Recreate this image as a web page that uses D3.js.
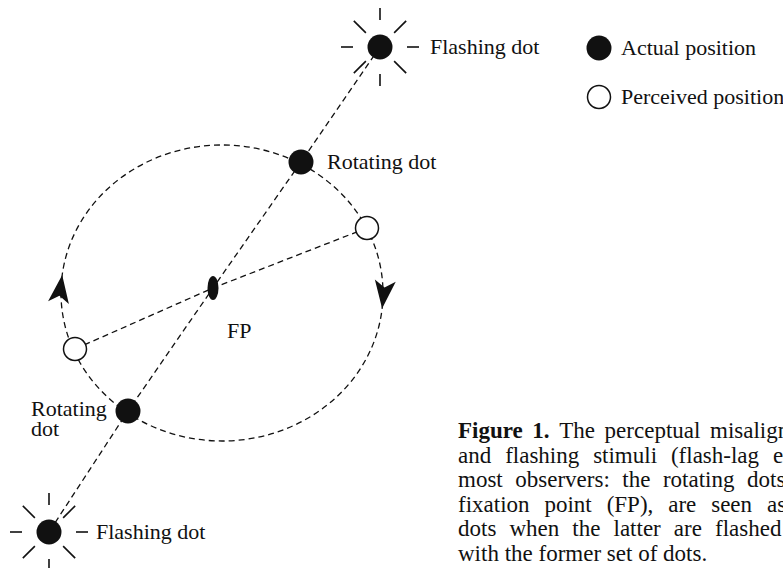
<!DOCTYPE html>
<html>
<head>
<meta charset="utf-8">
<script src="https://cdn.jsdelivr.net/npm/d3@7"></script>
<style>
  body { margin: 0; background: #fff; }
  svg { display: block; }
</style>
</head>
<body>
<svg id="fig" width="783" height="568"></svg>
<script>
// figure units are pixels, origin on the fixation point, y pointing up
var flashingDots = [[167, 241], [-164, -244]];
var rotatingDots = [[88, 126], [-85, -123]];
var perceivedDots = [[154, 60], [-138, -61]];
var orbitCentre = [9, -5];
var orbitRadii = [161, 148];
var arrowAngles = [173, -6];
var rayAngles = [0, 45, 90, 135, 180, 225, 270, 315];

var labelTexts = ['Flashing dot', 'Flashing dot', 'Rotating dot', 'Rotating', 'dot', 'FP'];
var labelSpots = [[217, 234], [-117, -251], [114, 119], [-182, -128], [-182, -148], [14, -50]];

var legendTexts = ['Actual position', 'Perceived position'];

var captionLines = [
  ['Figure', '1.', 'The', 'perceptual', 'misalignment'],
  ['and', 'flashing', 'stimuli', '(flash-lag', 'effect)'],
  ['most', 'observers:', 'the', 'rotating', 'dots,'],
  ['fixation', 'point', '(FP),', 'are', 'seen', 'as'],
  ['dots', 'when', 'the', 'latter', 'are', 'flashed'],
  ['with', 'the', 'former', 'set', 'of', 'dots.']
];
// x where a justified line's last word begins (null = ragged last line)
var captionStops = [710, 773, 747, 767, 715, null];

(function() {
  'use strict';

  var serif = '"Liberation Serif", "Times New Roman", Times, "DejaVu Serif", serif';
  var svg = d3.select('#fig').attr('font-family', serif);
  var x = d3.scaleLinear().domain([-213, 570]).range([0, 783]);
  var y = d3.scaleLinear().domain([288, -280]).range([0, 568]);

  var dashed = function(sel) {
    return sel.attr('fill', 'none').attr('stroke', '#111')
      .attr('stroke-width', 1.3).attr('stroke-dasharray', '6,4');
  };

  // orbit
  dashed(svg.append('ellipse'))
    .attr('cx', x(orbitCentre[0])).attr('cy', y(orbitCentre[1]))
    .attr('rx', x(orbitRadii[0]) - x(0)).attr('ry', y(0) - y(orbitRadii[1]));

  // line through flashes, rotating dots and FP; line through perceived dots
  var line = d3.line().x(function(d) { return x(d[0]); }).y(function(d) { return y(d[1]); });
  dashed(svg.append('path'))
    .attr('d', line([flashingDots[0], rotatingDots[0], [0, 0], rotatingDots[1], flashingDots[1]]));
  dashed(svg.append('path'))
    .attr('d', line([perceivedDots[0], [0, 0], perceivedDots[1]]));

  // direction arrows on the orbit (clockwise on screen)
  svg.selectAll('.arrow').data(arrowAngles).enter().append('path')
    .attr('class', 'arrow')
    .attr('d', 'M0,0L-28,-10.5L-21,0L-28,10.5Z')
    .attr('fill', '#111')
    .attr('transform', function(a) {
      var t = a * Math.PI / 180;
      var px = x(orbitCentre[0] + orbitRadii[0] * Math.cos(t));
      var py = y(orbitCentre[1] + orbitRadii[1] * Math.sin(t));
      var dx = orbitRadii[0] * Math.sin(t), dy = orbitRadii[1] * Math.cos(t);
      return 'translate(' + px + ',' + py + ') rotate(' + (Math.atan2(dy, dx) * 180 / Math.PI) + ')';
    });

  // fixation point
  svg.append('ellipse')
    .attr('cx', x(0)).attr('cy', y(0)).attr('rx', 5.5).attr('ry', 12).attr('fill', '#111');

  // rays round each flashing dot
  flashingDots.forEach(function(d) {
    svg.selectAll(null).data(rayAngles).enter().append('line')
      .attr('stroke', '#111').attr('stroke-width', 1.6)
      .each(function(a) {
        var t = a * Math.PI / 180;
        var inner = a % 90 === 0 ? 27 : 20, outer = a % 90 === 0 ? 39 : 37;
        d3.select(this)
          .attr('x1', x(d[0]) + inner * Math.cos(t)).attr('y1', y(d[1]) - inner * Math.sin(t))
          .attr('x2', x(d[0]) + outer * Math.cos(t)).attr('y2', y(d[1]) - outer * Math.sin(t));
      });
  });

  svg.selectAll('.actual').data(flashingDots.concat(rotatingDots)).enter().append('circle')
    .attr('class', 'actual')
    .attr('cx', function(d) { return x(d[0]); }).attr('cy', function(d) { return y(d[1]); })
    .attr('r', 12.5).attr('fill', '#111');

  svg.selectAll('.perceived').data(perceivedDots).enter().append('circle')
    .attr('class', 'perceived')
    .attr('cx', function(d) { return x(d[0]); }).attr('cy', function(d) { return y(d[1]); })
    .attr('r', 11.5).attr('fill', '#fff').attr('stroke', '#111').attr('stroke-width', 1.5);

  svg.selectAll('.label').data(labelTexts).enter().append('text')
    .attr('class', 'label')
    .attr('x', function(d, i) { return x(labelSpots[i][0]); })
    .attr('y', function(d, i) { return y(labelSpots[i][1]); })
    .attr('font-family', serif).attr('font-size', 22).attr('fill', '#111')
    .text(function(d) { return d; });

  // legend
  var legend = svg.append('g').attr('transform', 'translate(599,48)');
  legendTexts.forEach(function(t, i) {
    legend.append('circle').attr('cx', 0).attr('cy', i * 49).attr('r', i ? 11.5 : 12.5)
      .attr('fill', i ? '#fff' : '#111').attr('stroke', '#111').attr('stroke-width', i ? 1.5 : 0);
    legend.append('text').attr('x', 22).attr('y', i * 49 + 7)
      .attr('font-family', serif).attr('font-size', 22).attr('fill', '#111').text(t);
  });

  // caption, justified by hand
  var probe = svg.append('text').attr('font-family', serif).attr('font-size', 23);
  var width = function(word, bold) {
    probe.attr('font-weight', bold ? 'bold' : 'normal').text(word);
    return probe.node().getComputedTextLength();
  };
  var spaceW = width('a b') - width('ab');
  var caption = svg.append('g').attr('font-family', serif).attr('font-size', 23).attr('fill', '#111');
  captionLines.forEach(function(words, li) {
    var bold = function(wi) { return li === 0 && wi < 2; };
    var ws = words.map(function(w, wi) { return width(w, bold(wi)); });
    var stop = captionStops[li];
    var n = words.length;
    var gap = stop === null ? spaceW : (stop - 458 - d3.sum(ws.slice(0, n - 1))) / (n - 1);
    var cx = 458;
    words.forEach(function(w, wi) {
      caption.append('text').attr('x', cx).attr('y', 438 + li * 24.5)
        .attr('font-weight', bold(wi) ? 'bold' : 'normal').text(w);
      cx += ws[wi] + gap;
    });
  });
  probe.remove();
})();
</script>
</body>
</html>
